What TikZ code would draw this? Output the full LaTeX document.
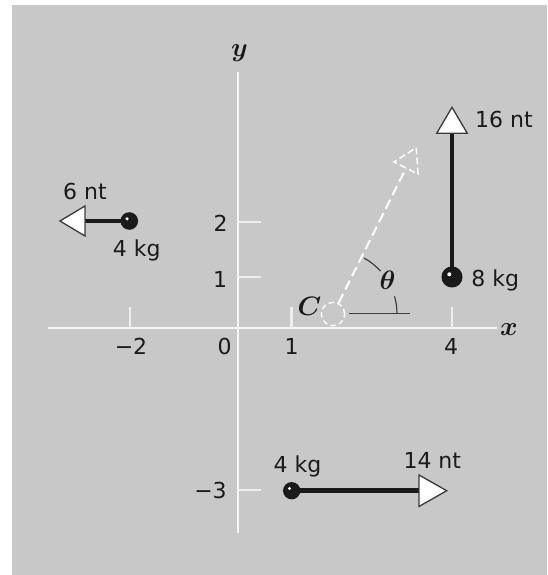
\documentclass[tikz,border=0pt]{standalone}
\usepackage{fontspec}
\newfontfamily\labfont{DejaVu Sans}
\usetikzlibrary{calc}
\definecolor{panel}{HTML}{C8C8C8}
\definecolor{axisc}{HTML}{F6F6F6}
\definecolor{tickc}{HTML}{EEEEEE}
\definecolor{ink}{HTML}{1A1A1A}
\definecolor{thinink}{HTML}{3C3C3C}
\begin{document}
\begin{tikzpicture}[x=0.75pt,y=-0.75pt,
  lab/.style={font=\labfont\fontsize{16.5}{18}\selectfont, inner sep=0pt, text=ink},
  mathlab/.style={inner sep=0pt, scale=2.0, text=ink, font=\boldmath},
  axisline/.style={draw=axisc, line width=2.1pt},
  tickline/.style={draw=tickc, line width=1.6pt},
  force/.style={draw=ink, line width=3.4pt},
  headtri/.style={draw=thinink, fill=white, line width=1pt, line join=miter},
  mass/.style={circle, fill=ink, inner sep=0pt, minimum size=#1},
  hilite/.style={fill=white},
  resdash/.style={draw=white, line width=1.5pt, dash pattern=on 7.5pt off 3.8pt},
  reshead/.style={draw=white, line width=1.1pt, dash pattern=on 5pt off 2.5pt, line join=miter},
  refline/.style={draw=thinink, line width=0.9pt},
]
% background panel
\fill[white] (0,0) rectangle (547,575);
\fill[panel] (12,5) rectangle (547,575);
\useasboundingbox (0,0) rectangle (547,575);

% axes
\coordinate (xl) at (48,328);
\coordinate (xr) at (497,328);
\coordinate (yt) at (238,72);
\coordinate (yb) at (238,533);
\draw[axisline] (xl) -- (xr);
\draw[axisline] (yb) -- (yt);

% ticks
\draw[tickline] (130,328) -- (130,307);
\draw[tickline] (291.5,328) -- (291.5,307);
\draw[tickline] (452,328) -- (452,307);
\draw[tickline] (238,222) -- (261,222);
\draw[tickline] (238,277) -- (261,277);
\draw[tickline] (238,490) -- (261,490);

% axis labels
\node[mathlab] (ylab) at (239.5,53) {$y$};
\node[mathlab] (xlab) at (509,330) {$x$};
\node[lab] (tm2) at (131,346) {−2};
\node[lab] (t0) at (224.7,346) {0};
\node[lab] (t1) at (291.5,346) {1};
\node[lab] (t4) at (451,346) {4};
\node[lab] (ty2) at (220.5,223.7) {2};
\node[lab] (ty1) at (220,279.5) {1};
\node[lab] (tym3) at (210.5,490) {−3};

% mass at (-2,2): 4 kg, 6 nt to the left
\node[mass=13.2pt] (m1) at (129.3,221) {};
\coordinate (m1b) at (85,221);
\coordinate (m1t) at (60,221);
\coordinate (m1c1) at (85,206);
\coordinate (m1c2) at (85,236);
\draw[force] (m1.center) -- (m1b);
\draw[headtri] (m1t) -- (m1c1) -- (m1c2) -- cycle;
\fill[hilite] ($(m1)+(-2.2,-2.2)$) circle[radius=1.7];
\node[lab] (f1) at (85,191.7) {6 nt};
\node[lab] (w1) at (136.7,250) {4 kg};

% mass at (4,1): 8 kg, 16 nt up
\node[mass=15.8pt] (m2) at (452,277) {};
\coordinate (m2b) at (452,133.3);
\coordinate (m2t) at (452,107.3);
\coordinate (m2c1) at (436.7,133.3);
\coordinate (m2c2) at (467.3,133.3);
\draw[force] (m2.center) -- (m2b);
\draw[headtri] (m2t) -- (m2c1) -- (m2c2) -- cycle;
\fill[hilite] ($(m2)+(-2.7,-2.7)$) circle[radius=2];
\node[lab] (f2) at (504,119.5) {16 nt};
\node[lab] (w2) at (495.3,280) {8 kg};

% mass at (1,-3): 4 kg, 14 nt right
\node[mass=13pt] (m3) at (291.7,490.7) {};
\coordinate (m3b) at (419,490.7);
\coordinate (m3t) at (446.7,490.7);
\coordinate (m3c1) at (419,475);
\coordinate (m3c2) at (419,506.5);
\draw[force] (m3.center) -- (m3b);
\draw[headtri] (m3t) -- (m3c1) -- (m3c2) -- cycle;
\fill[hilite] ($(m3)+(-2.2,-2.2)$) circle[radius=1.7];
\node[lab] (w3) at (297.5,466) {4 kg};
\node[lab] (f3) at (432.3,460) {14 nt};

% centre of mass C and resultant
\coordinate (Cc) at (333,314);
\node[circle, draw=white, line width=1pt, dash pattern=on 4pt off 2.5pt,
      minimum size=17.5pt, inner sep=0pt] (cm) at (Cc) {};
\coordinate (rb) at (406,168);
\coordinate (rt) at (416.2,147.7);
\coordinate (rc1) at (418.1,174);
\coordinate (rc2) at (393.9,162);
\draw[resdash] (cm.63.43) -- (rb);
\draw[reshead] (rt) -- (rc1) -- (rc2) -- cycle;
\node[mathlab] (clab) at (309.5,306.3) {$C$};

% angle theta
\coordinate (refend) at (410,313.5);
\draw[refline] (349,313.5) -- (refend);
\draw[refline] ($(Cc)+(0:64)$) arc[start angle=0, end angle=-16, radius=64];
\draw[refline] ($(Cc)+(-42:64)$) arc[start angle=-42, end angle=-61, radius=64];
\node[mathlab] (thlab) at (387.5,280.7) {$\theta$};
\end{tikzpicture}
\end{document}
